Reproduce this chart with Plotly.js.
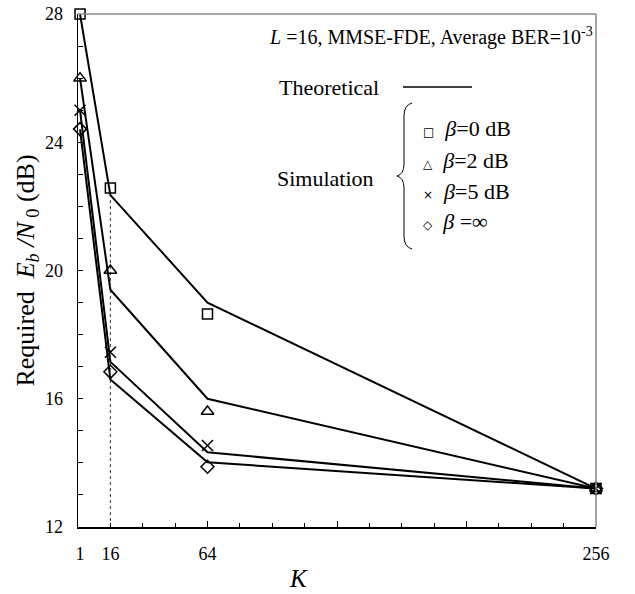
<!DOCTYPE html>
<html>
<head>
<meta charset="utf-8">
<script src="https://cdn.plot.ly/plotly-3.0.1.min.js"></script>
<style>html,body{margin:0;padding:0;background:#fff;}#chart{width:635px;height:594px;}</style>
</head>
<body>
<div id="chart"></div>
<script>
// ---- data ----
const K = [1, 16, 64, 256];
const theo0 = [28.0, 22.35, 19.0, 13.2];
const theo2 = [26.0, 19.4, 16.0, 13.2];
const theo5 = [25.0, 17.15, 14.33, 13.2];
const theoInf = [24.4, 16.6, 14.02, 13.2];
const sim0 = [28.0, 22.57, 18.64, 13.2];
const sim2 = [26.0, 20.0, 15.6, 13.2];
const sim5 = [25.0, 17.45, 14.54, 13.2];
const simInf = [24.41, 16.84, 13.88, 13.2];
const xTickVals = [1, 16, 64, 256];
const xTickText = ['1', '16', '64', '256'];
const yRange = [12, 28];
const xRange = [0, 256];
const legendLabels = ['<i>β</i>=0 dB', '<i>β</i>=2 dB', '<i>β</i>=5 dB', '<i>β</i> =∞'];
const legendGlyphs = ['□', '△', '×', '◇'];

const FONT = 'Liberation Serif, Times New Roman, serif';
const traces = [];
[theo0, theo2, theo5, theoInf].forEach(function (ys) {
  traces.push({x: K, y: ys, mode: 'lines', type: 'scatter', cliponaxis: false,
    line: {color: 'black', width: 2}, hoverinfo: 'skip', showlegend: false});
});
// dotted guide at K=16
traces.push({x: [K[1], K[1]], y: [yRange[0], theo0[1]], mode: 'lines', type: 'scatter',
  line: {color: '#333', width: 1, dash: 'dot'}, showlegend: false, hoverinfo: 'skip'});
const syms = ['square-open', 'triangle-up-open', 'x-thin-open', 'diamond-open'];
const sizes = [10, 11, 11, 10];
[sim0, sim2, sim5, simInf].forEach(function (ys, i) {
  traces.push({x: K, y: ys, mode: 'markers', type: 'scatter', cliponaxis: false,
    marker: {symbol: syms[i], size: sizes[i], color: 'black', line: {color: 'black', width: 1.5}},
    showlegend: false, hoverinfo: 'skip'});
});
// invisible trace for overlay tick axis
traces.push({x: [xRange[0]], y: [yRange[0]], xaxis: 'x2', yaxis: 'y', mode: 'markers',
  marker: {opacity: 0}, showlegend: false, hoverinfo: 'skip'});

const px = function (p) { return (p - 78) / 518; };
const py = function (p) { return (527 - p) / 513; };

const annotations = [
  {xref: 'paper', yref: 'paper', x: px(431), y: py(36), xanchor: 'center', yanchor: 'middle', showarrow: false,
   text: '<i>L</i> =16, MMSE-FDE, Average BER=10<sup>-3</sup>', font: {family: FONT, size: 20, color: 'black'}},
  {xref: 'paper', yref: 'paper', x: px(381), y: py(87), xanchor: 'right', yanchor: 'middle', showarrow: false,
   text: 'Theoretical', font: {family: FONT, size: 22, color: 'black'}},
  {xref: 'paper', yref: 'paper', x: px(376), y: py(178), xanchor: 'right', yanchor: 'middle', showarrow: false,
   text: 'Simulation', font: {family: FONT, size: 22, color: 'black'}},
  {xref: 'paper', yref: 'paper', x: px(298), y: py(578), xanchor: 'center', yanchor: 'middle', showarrow: false,
   text: '<i>K</i>', font: {family: FONT, size: 25, color: 'black'}}
];
const rowsY = [128, 160, 191, 221];
legendLabels.forEach(function (lab, i) {
  annotations.push({xref: 'paper', yref: 'paper', x: px(421), y: py(rowsY[i]), xanchor: 'left', yanchor: 'middle',
    showarrow: false,
    text: '<span style="font-family:DejaVu Sans;font-size:12px">' + legendGlyphs[i] + '</span>  ' + lab,
    font: {family: FONT, size: 22, color: 'black'}});
});

const shapes = [
  {type: 'line', xref: 'paper', yref: 'paper', x0: 0, x1: 1, y0: 1, y1: 1, line: {color: '#8a8a8a', width: 1.5}},
  {type: 'line', xref: 'paper', yref: 'paper', x0: 1, x1: 1, y0: 0, y1: 1, line: {color: '#8a8a8a', width: 1.5}},
  {type: 'line', xref: 'paper', yref: 'paper', x0: px(403), x1: px(472), y0: py(87), y1: py(87), line: {color: 'black', width: 1.5}},
  {type: 'path', xref: 'paper', yref: 'paper', xsizemode: 'pixel', ysizemode: 'pixel',
   xanchor: px(404), yanchor: py(176),
   path: 'M 8,73 Q 0,71 0,60 L 0,12 Q 0,2 -7,0 Q 0,-2 0,-12 L 0,-60 Q 0,-71 8,-73',
   line: {color: 'black', width: 1}}
];

const layout = {
  width: 635, height: 594,
  margin: {l: 78, r: 39, t: 14, b: 67},
  paper_bgcolor: 'white', plot_bgcolor: 'white',
  font: {family: FONT, color: 'black'},
  showlegend: false,
  xaxis: {range: xRange, tickmode: 'array', tickvals: xTickVals, ticktext: xTickText, ticks: '',
    showline: true, linecolor: 'black', linewidth: 1.5, zeroline: false, showgrid: false,
    tickfont: {family: FONT, size: 18, color: 'black'}, ticklabelstandoff: 10},
  xaxis2: {overlaying: 'x', anchor: 'y', range: xRange, tickmode: 'linear', tick0: 0, dtick: 64,
    ticks: 'inside', ticklen: 6, tickwidth: 1, tickcolor: 'black', showticklabels: false,
    showgrid: false, zeroline: false, showline: false,
    minor: {ticks: 'inside', dtick: 16, tick0: 0, ticklen: 4, tickwidth: 1, tickcolor: 'black'}},
  yaxis: {range: yRange, tickmode: 'linear', tick0: 12, dtick: 4, ticks: 'inside', ticklen: 5, tickwidth: 1,
    tickcolor: 'black', showline: true, linecolor: 'black', linewidth: 1.5, zeroline: false, showgrid: false,
    minor: {ticks: 'inside', dtick: 1, ticklen: 5, tickwidth: 1, tickcolor: 'black'},
    tickfont: {family: FONT, size: 18, color: 'black'}, ticklabelstandoff: 10,
    title: {text: 'Required  <i>E<sub>b</sub> /N</i><sub> 0</sub> (dB)', font: {family: FONT, size: 26, color: 'black'}, standoff: 3}},
  annotations: annotations,
  shapes: shapes
};

Plotly.newPlot('chart', traces, layout, {staticPlot: true, displayModeBar: false});
</script>
</body>
</html>
